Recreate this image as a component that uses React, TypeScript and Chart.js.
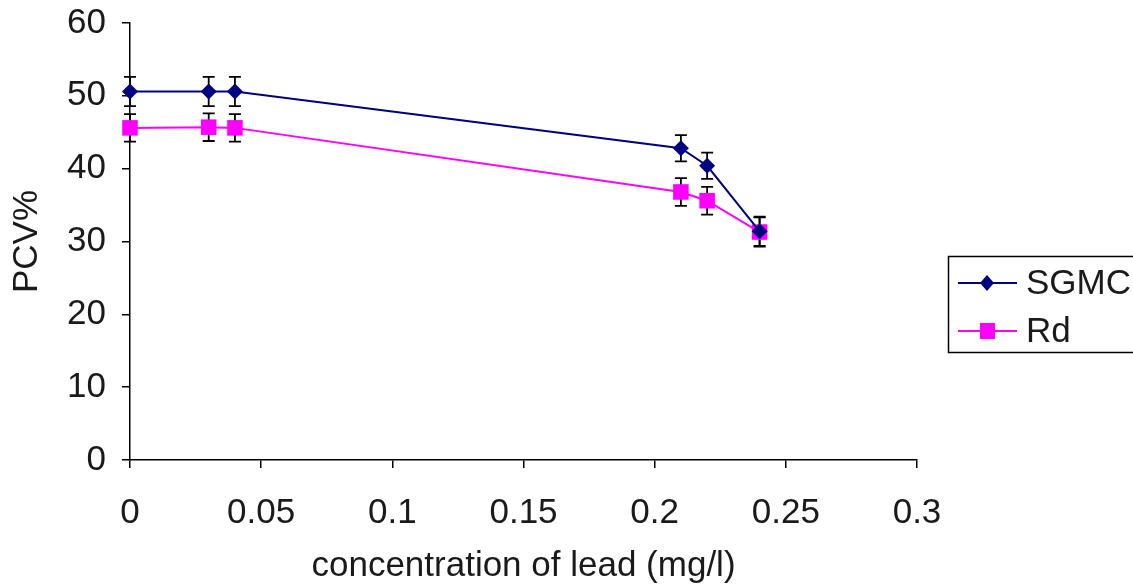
import { useEffect, useRef } from 'react';
import { Chart, registerables } from 'chart.js';

Chart.register(...registerables);

const concentrations = [0, 0.03, 0.04, 0.21, 0.22, 0.24];
const sgmcValues = [50.6, 50.6, 50.6, 42.8, 40.4, 31.4];
const sgmcErrors = [2.0, 2.0, 2.0, 1.8, 1.8, 2.0];
const rdValues = [45.6, 45.7, 45.6, 36.8, 35.6, 31.3];
const rdErrors = [1.9, 1.9, 1.9, 1.9, 1.9, 2.0];
const seriesNames = ['SGMC', 'Rd'];
const xTickValues = [0, 0.05, 0.1, 0.15, 0.2, 0.25, 0.3];
const xTickLabels = ['0', '0.05', '0.1', '0.15', '0.2', '0.25', '0.3'];
const yTickValues = [0, 10, 20, 30, 40, 50, 60];
const yTickLabels = ['0', '10', '20', '30', '40', '50', '60'];
const xTitle = 'concentration of lead (mg/l)';
const yTitle = 'PCV%';

const FONT = '"Liberation Sans", Arial, sans-serif';
const TEXT = '#1a1a1a';
const NAVY = '#000080';
const MAGENTA = '#ff00ff';

const errorSets = [sgmcErrors, rdErrors];
const valueSets = [sgmcValues, rdValues];

const errorBarPlugin = {
  id: 'errorBars',
  beforeDatasetsDraw(chart: any) {
    const ctx = chart.ctx;
    const xs = chart.scales.x;
    const ys = chart.scales.y;
    ctx.save();
    ctx.strokeStyle = '#000';
    ctx.lineWidth = 1.8;
    valueSets.forEach((vals, i) => {
      vals.forEach((v, j) => {
        const e = errorSets[i][j];
        const x = xs.getPixelForValue(concentrations[j]);
        const yt = ys.getPixelForValue(v + e);
        const yb = ys.getPixelForValue(v - e);
        ctx.beginPath();
        ctx.moveTo(x, yt);
        ctx.lineTo(x, yb);
        ctx.moveTo(x - 6, yt);
        ctx.lineTo(x + 6, yt);
        ctx.moveTo(x - 6, yb);
        ctx.lineTo(x + 6, yb);
        ctx.stroke();
      });
    });
    ctx.restore();
  },
};

const legendPlugin = {
  id: 'boxLegend',
  afterDraw(chart: any) {
    const ctx = chart.ctx;
    ctx.save();
    ctx.strokeStyle = '#000';
    ctx.lineWidth = 1.5;
    ctx.strokeRect(948.5, 256.5, 200, 96);
    const rows = [
      { y: 283, color: NAVY, marker: 'diamond' },
      { y: 331, color: MAGENTA, marker: 'square' },
    ];
    rows.forEach((r, i) => {
      ctx.strokeStyle = r.color;
      ctx.lineWidth = 2;
      ctx.beginPath();
      ctx.moveTo(958, r.y);
      ctx.lineTo(1017, r.y);
      ctx.stroke();
      ctx.fillStyle = r.color;
      ctx.beginPath();
      if (r.marker === 'diamond') {
        ctx.moveTo(987 - 7, r.y);
        ctx.lineTo(987, r.y - 8);
        ctx.lineTo(987 + 7, r.y);
        ctx.lineTo(987, r.y + 8);
        ctx.closePath();
      } else {
        ctx.rect(980, r.y - 8, 15, 16);
      }
      ctx.fill();
      ctx.fillStyle = TEXT;
      ctx.font = `35px ${FONT}`;
      ctx.textBaseline = 'middle';
      ctx.textAlign = 'left';
      ctx.fillText(seriesNames[i], 1026, r.y + 1);
    });
    ctx.restore();
  },
};

export default function App() {
  const ref = useRef<HTMLCanvasElement | null>(null);

  useEffect(() => {
    if (!ref.current) return;
    const chart = new Chart(ref.current, {
      type: 'scatter',
      data: {
        datasets: [
          {
            label: seriesNames[0],
            data: concentrations.map((x, i) => ({ x, y: sgmcValues[i] })),
            showLine: true,
            borderColor: NAVY,
            backgroundColor: NAVY,
            borderWidth: 2,
            pointStyle: 'rectRot',
            pointRadius: 8,
            pointBorderWidth: 0,
            clip: false,
          } as any,
          {
            label: seriesNames[1],
            data: concentrations.map((x, i) => ({ x, y: rdValues[i] })),
            showLine: true,
            borderColor: MAGENTA,
            backgroundColor: MAGENTA,
            borderWidth: 2,
            pointStyle: 'rect',
            pointRadius: 11,
            pointBorderWidth: 0,
            clip: false,
          } as any,
        ],
      },
      options: {
        animation: false,
        responsive: false,
        devicePixelRatio: 1,
        layout: { padding: { top: 23, right: 216, bottom: 0, left: 0 } },
        plugins: {
          legend: { display: false },
          tooltip: { enabled: false },
        },
        scales: {
          x: {
            type: 'linear',
            min: 0,
            max: 0.3,
            afterFit(scale: any) {
              scale.height = 124;
            },
            afterBuildTicks(scale: any) {
              scale.ticks = xTickValues.map((v) => ({ value: v }));
            },
            ticks: {
              callback: (v: any) => {
                const idx = xTickValues.findIndex((t) => Math.abs(t - Number(v)) < 1e-9);
                return idx >= 0 ? xTickLabels[idx] : '';
              },
              font: { family: FONT, size: 35 },
              color: TEXT,
              padding: 24,
              maxRotation: 0,
              autoSkip: false,
            },
            grid: {
              drawOnChartArea: false,
              drawTicks: true,
              tickLength: 8,
              color: '#000',
              lineWidth: 1.5,
            },
            border: { display: true, color: '#000', width: 1.5 },
            title: {
              display: true,
              text: xTitle,
              font: { family: FONT, size: 35, lineHeight: 1 },
              color: TEXT,
              padding: { top: 1, bottom: 0 },
            },
          },
          y: {
            type: 'linear',
            min: 0,
            max: 60,
            afterFit(scale: any) {
              scale.width = 130;
              scale.paddingTop = 0;
              scale.paddingBottom = 0;
            },
            afterBuildTicks(scale: any) {
              scale.ticks = yTickValues.map((v) => ({ value: v }));
            },
            ticks: {
              callback: (v: any) => {
                const idx = yTickValues.indexOf(Number(v));
                return idx >= 0 ? yTickLabels[idx] : '';
              },
              font: { family: FONT, size: 35 },
              color: TEXT,
              padding: 16,
              autoSkip: false,
            },
            grid: {
              drawOnChartArea: false,
              drawTicks: true,
              tickLength: 8,
              color: '#000',
              lineWidth: 1.5,
            },
            border: { display: true, color: '#000', width: 1.5 },
            title: {
              display: true,
              text: yTitle,
              font: { family: FONT, size: 35, lineHeight: 1 },
              color: TEXT,
              padding: { top: 10, bottom: 0 },
            },
          },
        },
      },
      plugins: [errorBarPlugin, legendPlugin],
    });
    return () => chart.destroy();
  }, []);

  return (
    <div style={{ position: 'fixed', left: 0, top: 0, width: 1133, height: 584, background: '#fff' }}>
      <canvas ref={ref} width={1133} height={584} />
    </div>
  );
}
